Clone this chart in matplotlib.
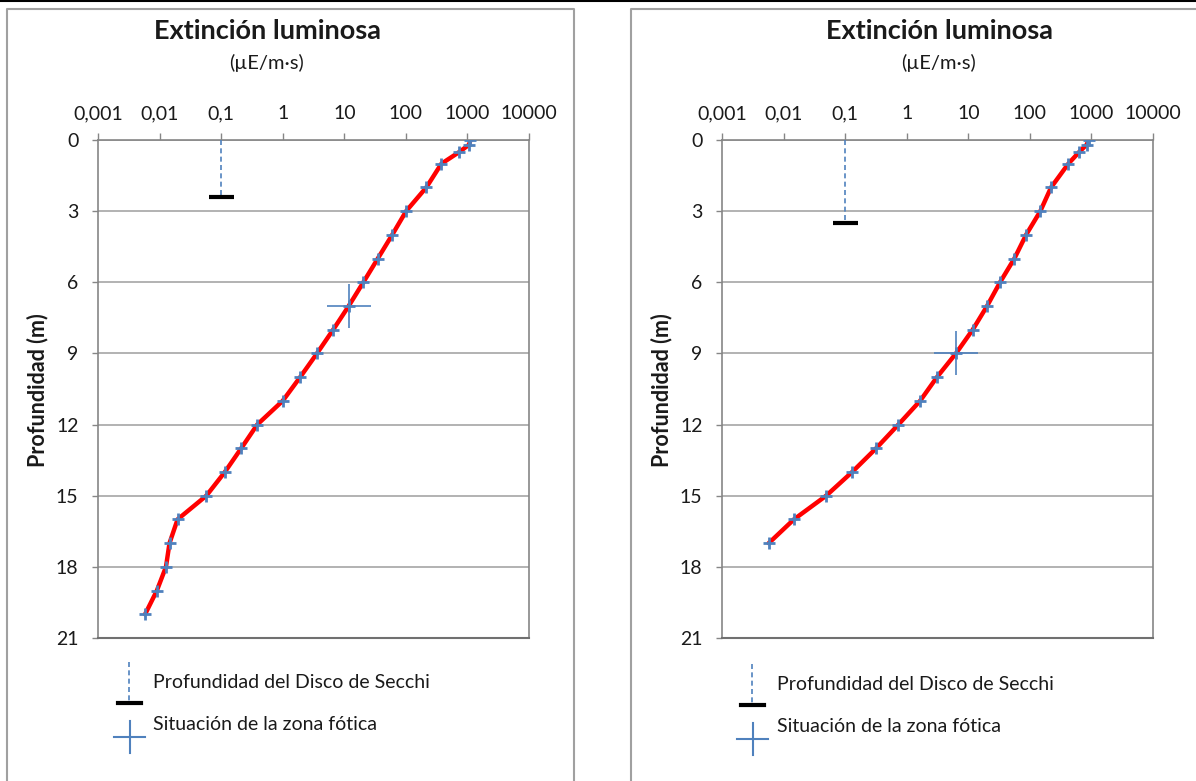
import matplotlib
matplotlib.use("Agg")
import matplotlib.pyplot as plt
from matplotlib.lines import Line2D

plt.rcParams['font.family'] = ['Lato', 'DejaVu Sans']

# ---------------- data ----------------
depth_left = [0, 0.2, 0.5, 1, 2, 3, 4, 5, 6, 7, 8, 9, 10, 11, 12, 13, 14, 15, 16, 17, 18, 19, 20]
light_left = [1120, 1060, 743, 378, 215, 101, 60, 35, 20.4, 11.8, 6.6, 3.6, 1.92, 1.0,
              0.386, 0.212, 0.115, 0.0575, 0.0196, 0.0145, 0.0127, 0.00904, 0.00582]
secchi_left = (0.1, 2.4)
photic_left = (11.8, 7)

depth_right = [0, 0.2, 0.5, 1, 2, 3, 4, 5, 6, 7, 8, 9, 10, 11, 12, 13, 14, 15, 16, 17]
light_right = [901, 836, 636, 422, 221, 148, 86.8, 56, 32.8, 20.2, 11.8, 6.3, 3.1, 1.65,
               0.733, 0.319, 0.13, 0.0492, 0.0147, 0.00575]
secchi_right = (0.1, 3.5)
photic_right = (6.3, 9)

xticks = [0.001, 0.01, 0.1, 1, 10, 100, 1000, 10000]
xtick_labels = ["0,001", "0,01", "0,1", "1", "10", "100", "1000", "10000"]
yticks = [0, 3, 6, 9, 12, 15, 18, 21]

title = "Extinción luminosa"
subtitle = "(µE/m·s)"
ylabel = "Profundidad (m)"
leg_secchi = "Profundidad del Disco de Secchi"
leg_photic = "Situación de la zona fótica"

RED = "#FF0000"
BLUE = "#4F81BD"
GRID = "#A6A6A6"
SPINE = "#868686"
TXT = "#1A1A1A"

W, H = 1196, 781
fig = plt.figure(figsize=(W / 100, H / 100), dpi=100)


def fx(px):
    return px / W


def fy(py):
    return 1 - py / H


def panel(ax_left_px, depth, light, secchi, photic, title_x, ylab_x, leg_sym_x, leg_txt_x, leg_y1, leg_y2):
    ax = fig.add_axes([fx(ax_left_px), fy(638), fx(431), (638 - 140) / H])
    ax.set_xscale('log')
    ax.set_xlim(0.001, 10000)
    ax.set_ylim(21, 0)
    ax.set_xticks(xticks)
    ax.set_xticklabels(xtick_labels)
    ax.minorticks_off()
    ax.set_yticks(yticks)
    ax.xaxis.tick_top()
    ax.tick_params(axis='x', direction='out', length=5, width=1, color=SPINE,
                   labelsize=14, pad=8, labelcolor=TXT)
    ax.tick_params(axis='y', direction='out', length=4, width=1, color=SPINE,
                   labelsize=14, pad=10, labelcolor=TXT)
    for s in ax.spines.values():
        s.set_color(SPINE)
        s.set_linewidth(1.2)
    ax.spines['bottom'].set_color('#707070')
    ax.spines['bottom'].set_linewidth(1.5)
    ax.yaxis.grid(True, color=GRID, linewidth=1.2)
    ax.set_axisbelow(True)

    # data
    ax.plot(light, depth, color=RED, lw=3.2, solid_joinstyle='round', solid_capstyle='round', zorder=3)
    ax.plot(light, depth, ls='none', marker='+', ms=8, mew=2, color=BLUE, zorder=4)
    # secchi
    ax.plot([secchi[0], secchi[0]], [0, secchi[1]], color=BLUE, lw=1.2, ls=(0, (3, 2)), zorder=3)
    ax.plot([secchi[0]], [secchi[1]], marker='_', ms=18, mew=3, color='black', zorder=3)
    # photic zone
    ax.plot([photic[0]], [photic[1]], marker='+', ms=31, mew=1.2, color=BLUE, zorder=5)

    # titles
    fig.text(fx(title_x), fy(31), title, ha='center', va='center', fontsize=19.5, fontweight='bold', color=TXT)
    fig.text(fx(title_x), fy(63), subtitle, ha='center', va='center', fontsize=14.5, color=TXT)
    fig.text(fx(ylab_x), fy(390), ylabel, ha='center', va='center', rotation=90,
             fontsize=15.5, fontweight='bold', color=TXT)

    # legend
    fig.add_artist(Line2D([fx(leg_sym_x), fx(leg_sym_x)], [fy(leg_y1 - 21), fy(leg_y1 + 18)],
                          transform=fig.transFigure, color=BLUE, lw=1.2, ls=(0, (3, 2))))
    fig.add_artist(Line2D([fx(leg_sym_x - 11), fx(leg_sym_x + 12)], [fy(leg_y1 + 20), fy(leg_y1 + 20)],
                          transform=fig.transFigure, color='black', lw=3))
    fig.add_artist(Line2D([fx(leg_sym_x - 15), fx(leg_sym_x + 16)], [fy(leg_y2 + 12), fy(leg_y2 + 12)],
                          transform=fig.transFigure, color=BLUE, lw=1.5))
    fig.add_artist(Line2D([fx(leg_sym_x + 1), fx(leg_sym_x + 1)], [fy(leg_y2 - 4), fy(leg_y2 + 28)],
                          transform=fig.transFigure, color=BLUE, lw=1.5))
    fig.text(fx(leg_txt_x), fy(leg_y1), leg_secchi, ha='left', va='center', fontsize=14, color=TXT)
    fig.text(fx(leg_txt_x), fy(leg_y2), leg_photic, ha='left', va='center', fontsize=14, color=TXT)
    return ax


panel(98, depth_left, light_left, secchi_left, photic_left,
      title_x=267, ylab_x=38, leg_sym_x=129, leg_txt_x=153, leg_y1=683, leg_y2=725)
panel(722, depth_right, light_right, secchi_right, photic_right,
      title_x=939, ylab_x=662, leg_sym_x=752, leg_txt_x=777, leg_y1=685, leg_y2=727)

# panel borders and top rule
BORDER = "#A0A0A0"
fig.add_artist(Line2D([0, 1], [fy(1), fy(1)], transform=fig.transFigure, color='black', lw=1.5))
fig.add_artist(Line2D([fx(7), fx(7), fx(574), fx(574)], [0, fy(9), fy(9), 0],
                      transform=fig.transFigure, color=BORDER, lw=1.5))
fig.add_artist(Line2D([fx(631), fx(631), 1], [0, fy(9), fy(9)],
                      transform=fig.transFigure, color=BORDER, lw=1.5))

fig.savefig("out.png", dpi=100, facecolor='white')
